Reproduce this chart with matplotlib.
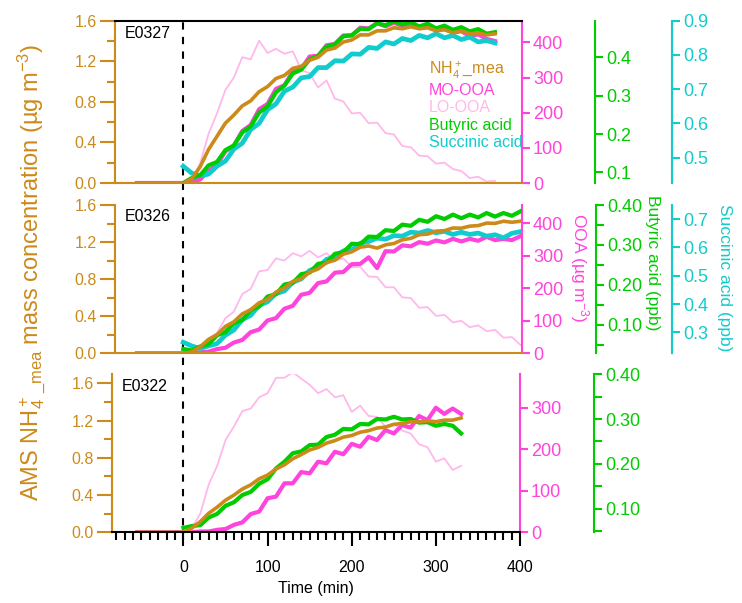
import numpy as np
import matplotlib
matplotlib.use("Agg")
import matplotlib.pyplot as plt
from matplotlib.lines import Line2D
from matplotlib import transforms
from matplotlib.ticker import MultipleLocator, FormatStrFormatter, FixedLocator

plt.rcParams['font.family'] = ['Liberation Sans', 'DejaVu Sans']
plt.rcParams['mathtext.fontset'] = 'custom'
plt.rcParams['mathtext.rm'] = 'Liberation Sans'
plt.rcParams['mathtext.it'] = 'Liberation Sans:italic'

C_NH4 = '#CC8A1A'
C_MO = '#FF44DD'
C_LO = '#FFB8EC'
C_GR = '#00CC00'
C_CY = '#11CCCC'

# ---- E0327 (top) ----
t_top = np.concatenate(([-55], np.arange(0, 380, 10)))
nh4_top = [0, 0.00, 0.04, 0.16, 0.33, 0.46, 0.59, 0.67, 0.76, 0.81, 0.90, 0.95, 1.03, 1.06, 1.13, 1.15,
           1.21, 1.24, 1.31, 1.33, 1.39, 1.41, 1.46, 1.46, 1.50, 1.50, 1.53, 1.52, 1.54, 1.52, 1.53,
           1.50, 1.51, 1.48, 1.50, 1.47, 1.48, 1.46, 1.47]
mo_top = [0, 0, 3, 10, 35, 52, 90, 106, 148, 165, 210, 225, 268, 278, 318, 325, 360, 362, 392, 396,
          420, 420, 442, 440, 455, 446, 456, 447, 453, 443, 449, 437, 441, 428, 432, 418, 423, 410, 404]
lo_top = [0, 0, 10, 55, 140, 198, 265, 300, 358, 352, 405, 370, 382, 368, 375, 322, 312, 272, 292,
          240, 232, 198, 200, 170, 172, 142, 138, 105, 102, 78, 76, 55, 58, 40, 34, 14, 18, 4, 6]
gr_top = [0.072, 0.085, 0.092, 0.118, 0.127, 0.158, 0.170, 0.204, 0.220, 0.256, 0.272, 0.309, 0.326,
          0.358, 0.368, 0.395, 0.404, 0.428, 0.434, 0.455, 0.458, 0.475, 0.474, 0.489, 0.484, 0.494,
          0.486, 0.492, 0.481, 0.488, 0.476, 0.483, 0.472, 0.479, 0.468, 0.474, 0.462, 0.466]
cy_top = [0.475, 0.455, 0.447, 0.452, 0.475, 0.490, 0.525, 0.542, 0.582, 0.600, 0.640, 0.657, 0.694,
          0.706, 0.733, 0.737, 0.763, 0.763, 0.783, 0.782, 0.803, 0.802, 0.822, 0.819, 0.838, 0.832,
          0.848, 0.842, 0.857, 0.850, 0.862, 0.850, 0.857, 0.845, 0.852, 0.838, 0.842, 0.835]

# ---- E0326 (middle) ----
t_mid = np.concatenate(([-55], np.arange(0, 410, 10)))
nh4_mid = [0, 0, 0.015, 0.07, 0.15, 0.20, 0.29, 0.34, 0.425, 0.47, 0.545, 0.58, 0.66, 0.705, 0.775,
           0.805, 0.875, 0.91, 0.978, 1.005, 1.07, 1.095, 1.145, 1.158, 1.135, 1.17, 1.185, 1.225,
           1.24, 1.28, 1.286, 1.318, 1.323, 1.352, 1.35, 1.372, 1.378, 1.405, 1.402, 1.425, 1.414, 1.425]
mo_mid = [0, 0, 1, 3, 5, 13, 17, 33, 41, 65, 73, 101, 108, 137, 146, 180, 186, 216, 221, 248, 250,
          274, 275, 295, 262, 314, 313, 332, 329, 342, 337, 347, 341, 352, 344, 352, 346, 358, 348,
          352, 348, 360]
lo_mid = [0, 0, 5, 14, 45, 62, 108, 128, 182, 198, 252, 256, 292, 285, 308, 298, 315, 295, 308, 285,
          292, 265, 266, 236, 235, 203, 203, 172, 170, 140, 142, 115, 118, 95, 100, 80, 86, 68, 72,
          48, 50, 26]
gr_mid = [0.040, 0.036, 0.046, 0.052, 0.074, 0.082, 0.104, 0.112, 0.137, 0.146, 0.171, 0.177, 0.201,
          0.205, 0.227, 0.231, 0.253, 0.256, 0.278, 0.282, 0.303, 0.302, 0.321, 0.320, 0.337, 0.335,
          0.351, 0.348, 0.363, 0.358, 0.372, 0.365, 0.376, 0.367, 0.376, 0.369, 0.380, 0.371, 0.380,
          0.373, 0.384]
cy_mid = [0.265, 0.252, 0.243, 0.252, 0.260, 0.290, 0.308, 0.345, 0.360, 0.395, 0.408, 0.437, 0.446,
          0.477, 0.489, 0.519, 0.529, 0.558, 0.566, 0.588, 0.591, 0.615, 0.621, 0.633, 0.629, 0.642,
          0.640, 0.654, 0.651, 0.660, 0.652, 0.657, 0.646, 0.654, 0.646, 0.651, 0.640, 0.645, 0.634,
          0.650, 0.656]

# ---- E0322 (bottom) ----
t_bot = np.concatenate(([-55], np.arange(0, 340, 10)))
nh4_bot = [0, 0, 0.045, 0.115, 0.205, 0.27, 0.345, 0.40, 0.465, 0.51, 0.575, 0.615, 0.68, 0.725, 0.79,
           0.835, 0.885, 0.912, 0.958, 0.985, 1.022, 1.04, 1.075, 1.092, 1.12, 1.13, 1.16, 1.168,
           1.188, 1.185, 1.198, 1.188, 1.205, 1.205, 1.228]
mo_bot = [0, 0, 0, 2, 2, 6, 8, 18, 24, 44, 50, 82, 86, 118, 118, 145, 142, 170, 166, 194, 188, 213,
          206, 230, 222, 246, 238, 258, 252, 280, 270, 300, 285, 298, 285]
lo_bot = [0, 0, 10, 45, 115, 160, 222, 255, 292, 298, 325, 335, 372, 372, 385, 370, 355, 335, 345,
          325, 330, 290, 305, 280, 278, 255, 262, 245, 238, 212, 205, 170, 178, 150, 160]
gr_bot = [0.058, 0.062, 0.064, 0.081, 0.089, 0.107, 0.115, 0.131, 0.138, 0.156, 0.166, 0.190, 0.205,
          0.224, 0.228, 0.242, 0.243, 0.260, 0.265, 0.278, 0.277, 0.289, 0.288, 0.300, 0.299, 0.305,
          0.299, 0.300, 0.292, 0.293, 0.285, 0.289, 0.285, 0.268]

fig = plt.figure(figsize=(7.42, 6.03), dpi=100)


def panel(rect, xlim, t, nh4, mo, lo, gr, cy, ylim_l, ylim_p, ylim_g, ylim_c,
          pink_ticks, gr_pos, cy_pos, gr_fmt, gr_minor, name, bottom=False, top=False):
    ax = fig.add_axes(rect)
    axp = ax.twinx()
    axg = ax.twinx()
    ax.set_zorder(5)
    ax.patch.set_visible(False)
    axp.set_zorder(1)
    axg.set_zorder(3)

    lines = []
    lines.append(ax.plot(t, nh4, color=C_NH4, lw=2.6, label=r'NH$_4^+$_mea')[0])
    lines.append(axp.plot(t, mo, color=C_MO, lw=3.0, label='MO-OOA', zorder=3)[0])
    lines.append(axp.plot(t, lo, color=C_LO, lw=1.3, label='LO-OOA', zorder=2)[0])
    lines.append(axg.plot(t[1:], gr, color=C_GR, lw=3.0, label='Butyric acid')[0])

    ax.set_xlim(xlim)
    ax.set_ylim(ylim_l)
    axp.set_ylim(ylim_p)
    axg.set_ylim(ylim_g)

    # left axis
    ax.spines['right'].set_visible(False)
    ax.spines['left'].set_color(C_NH4)
    ax.spines['left'].set_linewidth(1.5)
    ax.yaxis.set_major_locator(MultipleLocator(0.4))
    ax.yaxis.set_minor_locator(MultipleLocator(0.2))
    ax.yaxis.set_major_formatter(FormatStrFormatter('%.1f'))
    ax.tick_params(axis='y', which='major', direction='out', length=11, width=1.5,
                   colors=C_NH4, labelsize=11.5, pad=2)
    ax.tick_params(axis='y', which='minor', direction='out', length=6, width=1.5, colors=C_NH4)
    if bottom:
        ax.spines['bottom'].set_color('black')
        ax.spines['bottom'].set_linewidth(1.5)
        ax.spines['top'].set_visible(False)
        ax.xaxis.set_major_locator(MultipleLocator(100))
        ax.xaxis.set_minor_locator(MultipleLocator(10))
        ax.tick_params(axis='x', which='major', direction='out', length=10, width=1.5,
                       labelsize=11.5, pad=10)
        ax.tick_params(axis='x', which='minor', direction='out', length=6, width=1.5)
        ax.set_xlabel('Time (min)', fontsize=11.5, labelpad=4)
    else:
        ax.spines['bottom'].set_color(C_NH4)
        ax.spines['bottom'].set_linewidth(1.5)
        ax.tick_params(axis='x', which='both', bottom=False, labelbottom=False)
        if top:
            ax.spines['top'].set_color('black')
            ax.spines['top'].set_linewidth(1.5)
        else:
            ax.spines['top'].set_visible(False)

    # pink axis
    for s in ['left', 'top', 'bottom']:
        axp.spines[s].set_visible(False)
    axp.spines['right'].set_color(C_MO)
    axp.spines['right'].set_linewidth(1.5)
    axp.yaxis.set_major_locator(FixedLocator(pink_ticks))
    axp.tick_params(axis='y', direction='out', length=6, width=1.5, colors=C_MO,
                    labelsize=13, pad=2)

    # green axis
    for s in ['left', 'top', 'bottom']:
        axg.spines[s].set_visible(False)
    axg.spines['right'].set_position(('axes', gr_pos))
    axg.spines['right'].set_color(C_GR)
    axg.spines['right'].set_linewidth(1.5)
    axg.yaxis.set_major_locator(MultipleLocator(0.1))
    axg.yaxis.set_major_formatter(FormatStrFormatter(gr_fmt))
    if gr_minor:
        axg.yaxis.set_minor_locator(MultipleLocator(0.05))
    axg.tick_params(axis='y', which='both', direction='out', length=6, width=1.5, colors=C_GR,
                    labelsize=13, pad=2)

    if cy is not None:
        axc = ax.twinx()
        axc.set_zorder(2)
        lines.insert(4, axc.plot(t[1:], cy, color=C_CY, lw=3.4, label='Succinic acid')[0])
        axc.set_ylim(ylim_c)
        for s in ['left', 'top', 'bottom']:
            axc.spines[s].set_visible(False)
        axc.spines['right'].set_position(('axes', cy_pos))
        axc.spines['right'].set_color(C_CY)
        axc.spines['right'].set_linewidth(1.5)
        axc.yaxis.set_major_locator(MultipleLocator(0.1))
        axc.yaxis.set_major_formatter(FormatStrFormatter('%.1f'))
        axc.tick_params(axis='y', direction='out', length=6, width=1.5, colors=C_CY,
                        labelsize=13, pad=2)

    ax.text(0.025, 0.97, name, transform=ax.transAxes, ha='left', va='top', fontsize=11.5)
    return ax, lines


ax1, lines1 = panel([0.155, 0.6965, 0.5485, 0.2692], (-81, 402), t_top, nh4_top, mo_top, lo_top,
                    gr_top, cy_top, (0, 1.6), (0, 462), (0.072, 0.496), (0.426, 0.9),
                    [0, 100, 200, 300, 400], 1.179, 1.368, '%.1f', False, 'E0327', top=True)
ax2, lines2 = panel([0.155, 0.4141, 0.5485, 0.2459], (-81, 402), t_mid, nh4_mid, mo_mid, lo_mid,
                    gr_mid, cy_mid, (0, 1.6), (0, 456), (0.029, 0.40), (0.226, 0.75),
                    [0, 100, 200, 300, 400], 1.183, 1.368, '%.2f', True, 'E0326')
ax3, lines3 = panel([0.1509, 0.1172, 0.5499, 0.2625], (-85, 400), t_bot, nh4_bot, mo_bot, lo_bot,
                    gr_bot, None, (0, 1.7), (0, 381), (0.048, 0.40), None,
                    [0, 100, 200, 300], 1.182, None, '%.2f', True, 'E0322', bottom=True)

leg = ax1.legend(handles=lines1, loc='upper left', bbox_to_anchor=(0.755, 0.80), frameon=False,
                 handlelength=0, handletextpad=0, labelspacing=0.15, fontsize=11.5,
                 labelcolor='linecolor', borderaxespad=0)

# dashed line at t = 0 across all panels
trans = transforms.blended_transform_factory(ax3.transData, fig.transFigure)
fig.add_artist(Line2D([0, 0], [0.1045, 0.9657], transform=trans, color='black', lw=1.5,
                      linestyle=(0, (3.5, 3.5))))

fig.text(0.042, 0.549, r'AMS NH$_4^+{}_{\_\mathrm{mea}}$ mass concentration (µg m$^{-3}$)',
         rotation=90, ha='center', va='center', color=C_NH4, fontsize=17)
fig.text(0.781, 0.556, r'OOA (µg m$^{-3}$)', rotation=270, ha='center', va='center',
         color=C_MO, fontsize=12.5)
fig.text(0.879, 0.565, 'Butyric acid (ppb)', rotation=270, ha='center', va='center',
         color=C_GR, fontsize=12.5)
fig.text(0.977, 0.54, 'Succinic acid (ppb)', rotation=270, ha='center', va='center',
         color=C_CY, fontsize=12.5)

fig.savefig('out.png', dpi=100)
